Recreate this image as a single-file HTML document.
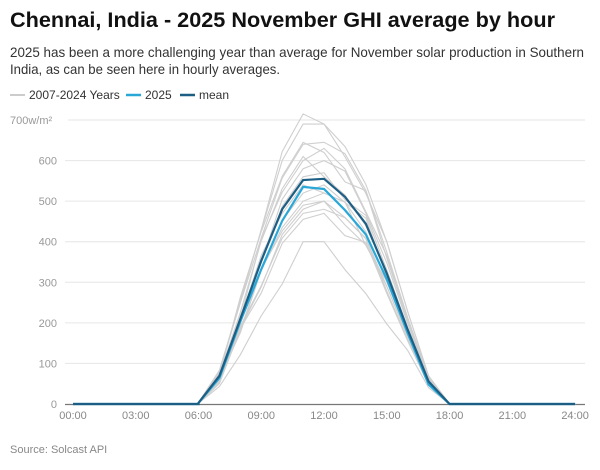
<!DOCTYPE html>
<html><head><meta charset="utf-8"><style>
body{margin:0;width:600px;height:465px;background:#fff;font-family:"Liberation Sans",Arial,sans-serif;overflow:hidden}
</style></head><body>
<svg id="s" width="600" height="465" xmlns="http://www.w3.org/2000/svg" font-family="Liberation Sans, Arial, sans-serif">
<text x="10" y="27" font-size="21" font-weight="bold" fill="#111" textLength="545" lengthAdjust="spacingAndGlyphs">Chennai, India - 2025 November GHI average by hour</text>
<text x="10" y="57" font-size="14" fill="#333" textLength="574" lengthAdjust="spacingAndGlyphs">2025 has been a more challenging year than average for November solar production in Southern</text>
<text x="10" y="74" font-size="14" fill="#333" textLength="270" lengthAdjust="spacingAndGlyphs">India, as can be seen here in hourly averages.</text>
<line x1="10" y1="95" x2="25" y2="95" stroke="#ccc" stroke-width="2"/>
<text x="29" y="99" font-size="12" fill="#333">2007-2024 Years</text>
<line x1="126" y1="95" x2="141" y2="95" stroke="#29a8d8" stroke-width="2.5"/>
<text x="145" y="99" font-size="12" fill="#333">2025</text>
<line x1="180" y1="95" x2="195" y2="95" stroke="#1d5e84" stroke-width="2.5"/>
<text x="199" y="99" font-size="12" fill="#333">mean</text>
<g id="grid"></g>
<g id="gray" fill="none" stroke="#cfcfcf" stroke-width="1.1"></g>
<g id="main" fill="none" stroke-width="2.2"></g>
<text x="10" y="453" font-size="11" fill="#888">Source: Solcast API</text>
</svg>
<script>
var NS="http://www.w3.org/2000/svg";
function X(h){return 73+h*20.92}
function Y(v){return 404-v*0.4057}
function el(p,t,a,txt){var e=document.createElementNS(NS,t);for(var k in a)e.setAttribute(k,a[k]);if(txt)e.textContent=txt;document.getElementById(p).appendChild(e);}
for(var v=100;v<=700;v+=100){el("grid","line",{x1:v==700?68:65,x2:585,y1:Y(v),y2:Y(v),stroke:"#e6e6e6","stroke-width":1});
el("grid","text",{x:v==700?10:57,y:Y(v)+4,"font-size":11,fill:"#999","text-anchor":v==700?"start":"end"},v==700?"700w/m²":""+v);}
el("grid","text",{x:57,y:Y(0)+4,"font-size":11,fill:"#999","text-anchor":"end"},"0");
for(var h=0;h<=24;h+=3){el("grid","text",{x:X(h),y:419,"font-size":11,fill:"#888","text-anchor":"middle"},(h<10?"0":"")+h+":00");}
var base=[.005,.12,.38,.64,.87,1,1,.92,.8,.58,.33,.1,0];
function line(g,a,b,stroke,f){var pts=[];for(var h=0;h<=6;h++)pts.push(X(h)+","+Y(0));
for(var i=0;i<13;i++){var h=6+i;var v=(i<=5?a:b)*base[i]*(f?f[i]:1);if(i==6)v=b;if(i==5)v=a;pts.push(X(h)+","+Y(v));}
for(var h=19;h<=24;h++)pts.push(X(h)+","+Y(0));
var o={points:pts.join(" ")};if(stroke)o.stroke=stroke;el(g,"polyline",o);}
var gr=[[715,690],[690,690],[640,645],[645,620],[600,630],[580,600],[560,570],[520,540],[500,520],[490,500],[480,500],[470,480],[400,400],[610,560],[540,520],[455,470]];
gr.forEach(function(p,i){var f=[1,1+(i%3-1)*.08,1+(i%4-1.5)*.05,1+(i%5-2)*.03,1,1,1,1+(i%3-1)*.04,1+(i%4-1.5)*.04,1,1,1,1];if(p[0]==400)f=[1,.9,.8,.85,.85,1,1,.9,.85,.85,1,1,1];line("gray",p[0],p[1],null,f);});
line("main",535,530,"#29a8d8",[1,1,1,.97,.97,1,1,.98,.985,1,1,.9,1]);
line("main",552,555,"#1d5e84",[1,1.05,1,1,1,1,1,1,1,1,1,1,1]);
el("grid","line",{x1:65,x2:585,y1:404.5,y2:404.5,stroke:"#777","stroke-width":1.2});
</script>
</body></html>
